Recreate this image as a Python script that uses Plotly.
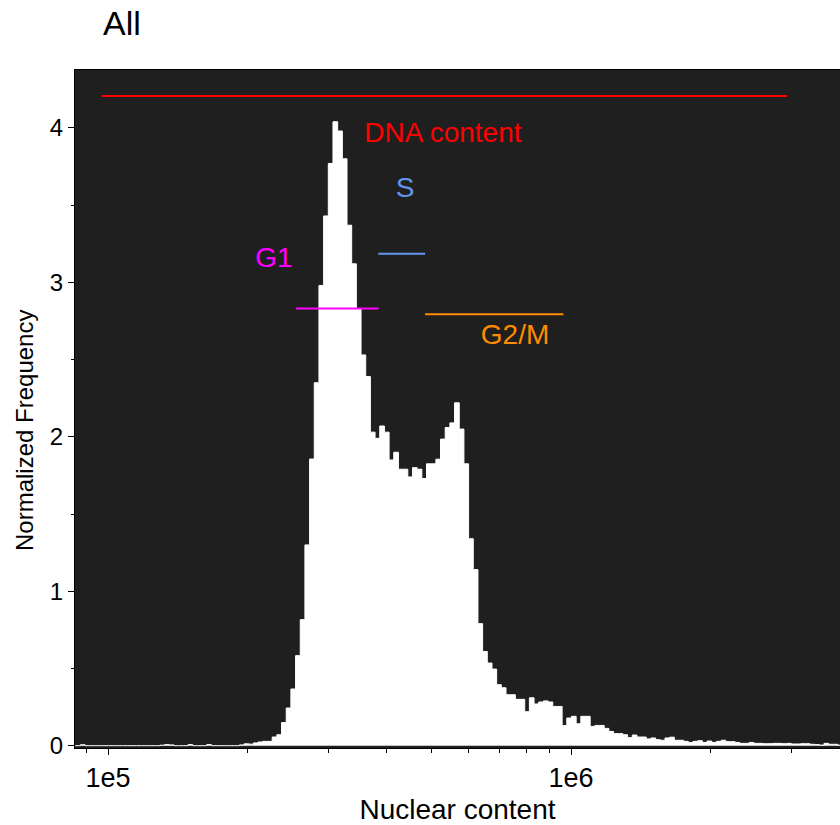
import plotly.graph_objects as go

# ---- histogram data (bins equally spaced in log10) ----
LOG_START = 4.9203   # log10 of the first bin edge
LOG_STEP = 0.0101    # bin width in decades
freq = [
    0, 0, 0.006, 0, 0, 0, 0, 0, 0, 0,
    0, 0, 0, 0, 0, 0, 0, 0, 0, 0.003,
    0.007, 0.005, 0, 0, 0, 0.007, 0, 0, 0, 0.007,
    0, 0, 0, 0, 0, 0, 0.005, 0.012, 0.01, 0.018,
    0.024, 0.028, 0.028, 0.056, 0.071, 0.15, 0.244, 0.367, 0.583, 0.816,
    1.30, 1.856, 2.35, 2.98, 3.43, 3.77, 4.04, 3.98, 3.80, 3.37,
    3.12, 2.83, 2.53, 2.39, 2.03, 1.99, 2.07, 2.03, 1.85, 1.90,
    1.79, 1.79, 1.74, 1.80, 1.79, 1.73, 1.825, 1.825, 1.855, 1.985,
    2.06, 2.09, 2.22, 2.05, 1.825, 1.34, 1.14, 0.79, 0.61, 0.535,
    0.496, 0.395, 0.375, 0.33, 0.33, 0.30, 0.30, 0.22, 0.31, 0.27,
    0.283, 0.29, 0.283, 0.254, 0.254, 0.13, 0.179, 0.19, 0.142, 0.19,
    0.19, 0.125, 0.131, 0.131, 0.112, 0.092, 0.078, 0.078, 0.071, 0.052,
    0.069, 0.056, 0.056, 0.044, 0.05, 0.039, 0.035, 0.05, 0.055, 0.035,
    0.035, 0.028, 0.021, 0.028, 0.032, 0.021, 0.03, 0.021, 0.028, 0.035,
    0.026, 0.026, 0.021, 0.015, 0.015, 0.021, 0.015, 0.015, 0.013, 0.013,
    0.015, 0.015, 0.013, 0.015, 0.011, 0.011, 0.013, 0.013, 0.009, 0.007,
    0.004, 0.015, 0.009, 0.009, 0.003,
]

# ---- gate / marker data ----
gate_names = ["DNA content", "S", "G1", "G2/M"]
gate_x0 = [9.69e4, 3.836e5, 2.547e5, 4.84e5]
gate_x1 = [2.93e6, 4.84e5, 3.84e5, 9.63e5]
gate_y = [4.207, 3.186, 2.830, 2.794]
gate_colors = ["#ff0000", "#6495ed", "#ff00ff", "#ff8c00"]
label_x = [5.29e5, 4.38e5, 2.283e5, 7.57e5]
label_y = [3.955, 3.60, 3.146, 2.647]

# ---- axis ticks ----
x_tickvals = [1e5, 1e6]
x_ticktext = ["1e5", "1e6"]
x_minorvals = [9e4, 2e5, 3e5, 4e5, 5e5, 6e5, 7e5, 8e5, 9e5, 2e6, 3e6]
y_tickvals = [0, 1, 2, 3, 4]

edges = [10 ** (LOG_START + LOG_STEP * i) for i in range(len(freq) + 1)]
steps_y = freq + [freq[-1]]

FONT = "Liberation Sans, Arial, sans-serif"

fig = go.Figure()
fig.add_trace(go.Scatter(
    x=edges, y=steps_y, mode="lines", line=dict(shape="hv", color="white", width=1),
    fill="tozeroy", fillcolor="white", hoverinfo="skip", showlegend=False,
))

for name, x0, x1, y, c, lx, ly in zip(gate_names, gate_x0, gate_x1, gate_y,
                                        gate_colors, label_x, label_y):
    fig.add_trace(go.Scatter(
        x=[x0, x1], y=[y, y], mode="lines", line=dict(color=c, width=2),
        showlegend=False, hoverinfo="skip",
    ))
    fig.add_trace(go.Scatter(
        x=[lx], y=[ly], mode="text", text=[name],
        textfont=dict(color=c, size=28, family=FONT),
        showlegend=False, hoverinfo="skip",
    ))

fig.update_layout(
    width=840, height=825,
    margin=dict(l=75, r=0, t=70, b=77),
    paper_bgcolor="white", plot_bgcolor="#1f1f1f",
    font=dict(family=FONT, color="black", size=24),
    title=dict(text="All", x=103 / 840, xanchor="left", xref="container",
               y=1 - 23 / 825, yanchor="middle", yref="container",
               font=dict(size=34, family=FONT, color="black")),
    showlegend=False,
    annotations=[dict(
        text="Normalized Frequency", textangle=-90,
        xref="paper", yref="paper", x=0, y=(748 - 431) / 678,
        xanchor="center", yanchor="middle", xshift=-51, showarrow=False,
        font=dict(size=24, family=FONT, color="black"),
    )],
)
fig.update_xaxes(
    type="log", range=[4.9287, 6.581],
    tickvals=x_tickvals, ticktext=x_ticktext,
    ticks="outside", ticklen=6, tickcolor="black", tickwidth=1,
    minor=dict(tickvals=x_minorvals, ticks="outside", ticklen=4, tickcolor="black"),
    showline=True, linecolor="black", linewidth=1, mirror=True,
    showgrid=False, zeroline=False,
    tickfont=dict(size=27, family=FONT),
    title=dict(text="Nuclear content", font=dict(size=28, family=FONT), standoff=8),
)
fig.update_yaxes(
    range=[-0.015, 4.375],
    tickvals=y_tickvals,
    ticks="outside", ticklen=6, tickcolor="black", tickwidth=1,
    minor=dict(dtick=0.5, ticks="outside", ticklen=3, tickcolor="black"),
    showline=True, linecolor="black", linewidth=1, mirror=True,
    showgrid=False, zeroline=False,
    tickfont=dict(size=24, family=FONT),
)

# remove the browser's default 8px body margin so the figure fills the window
fig.write_html("out.html",
               config={"displayModeBar": False},
               post_script="document.body.style.margin='0';document.body.style.overflow='hidden';")
